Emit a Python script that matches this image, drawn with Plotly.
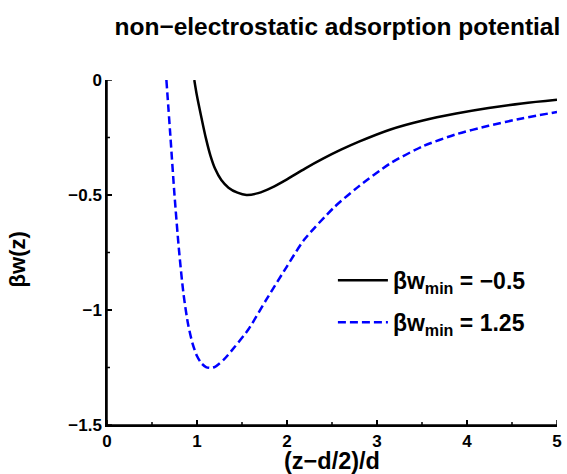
import plotly.graph_objects as go

x_black = [0.97, 1.00, 1.05, 1.10, 1.15, 1.20, 1.27, 1.35, 1.45, 1.55, 1.68, 1.83, 2.0, 2.2, 2.4, 2.6, 2.8, 3.15, 3.51, 3.88, 4.24, 4.61, 5.0]
y_black = [0.0, -0.07, -0.165, -0.255, -0.33, -0.385, -0.435, -0.468, -0.49, -0.5, -0.492, -0.468, -0.432, -0.385, -0.342, -0.303, -0.268, -0.215, -0.176, -0.146, -0.122, -0.102, -0.086]

x_blue = [0.66, 0.70, 0.75, 0.80, 0.85, 0.90, 0.95, 1.00, 1.05, 1.10, 1.15, 1.20, 1.30, 1.42, 1.57, 1.77, 2.0, 2.19, 2.52, 2.78, 3.15, 3.51, 3.88, 4.24, 4.61, 5.0]
y_blue = [0.0, -0.22, -0.50, -0.74, -0.93, -1.06, -1.145, -1.2, -1.232, -1.248, -1.252, -1.247, -1.215, -1.16, -1.085, -0.955, -0.81, -0.695, -0.555, -0.468, -0.362, -0.288, -0.236, -0.199, -0.167, -0.139]

x_range = [0, 5]
y_range = [-1.5, 0]
x_ticks = [0, 1, 2, 3, 4, 5]
x_minor = [0.5, 1.5, 2.5, 3.5, 4.5]
y_ticks = [0, -0.5, -1, -1.5]
y_minor = [-0.25, -0.75, -1.25]
y_ticktext = ["0", "\u22120.5", "\u22121", "\u22121.5"]

names = ["\u03b2w<sub>min</sub> = \u22120.5", "\u03b2w<sub>min</sub> = 1.25"]

FONT = "Liberation Sans, Arial, sans-serif"
W, H = 567, 474
ML, MR, MT, MB = 107, 5, 80, 49
PW, PH = W - ML - MR, H - MT - MB

# pixel -> data unit conversions for tick lengths
dx_px = (x_range[1] - x_range[0]) / PW
dy_px = (y_range[1] - y_range[0]) / PH

fig = go.Figure()

# axis frame (left + bottom spines) and inward tick marks, built from the axis ranges and tick lists
fx = [x_range[0], x_range[0], x_range[1]]
fy = [y_range[1], y_range[0], y_range[0]]
for v in x_ticks:
    fx += [None, v, v]
    fy += [None, y_range[0], y_range[0] + 5 * dy_px]
for v in x_minor:
    fx += [None, v, v]
    fy += [None, y_range[0], y_range[0] + 3 * dy_px]
for v in y_ticks:
    fx += [None, x_range[0], x_range[0] + 5 * dx_px]
    fy += [None, v, v]
for v in y_minor:
    fx += [None, x_range[0], x_range[0] + 3 * dx_px]
    fy += [None, v, v]
fig.add_trace(go.Scatter(x=fx, y=fy, mode="lines", line=dict(color="black", width=1.5),
                         showlegend=False, hoverinfo="skip", cliponaxis=False, connectgaps=False))

fig.add_trace(go.Scatter(x=x_black, y=y_black, mode="lines", name=names[0],
                         line=dict(color="black", width=2.5, shape="spline", smoothing=0.9),
                         legendgroup="a"))
fig.add_trace(go.Scatter(x=x_blue, y=y_blue, mode="lines", name=names[1],
                         line=dict(color="#0000ff", width=2.5, dash="8px,4px", shape="spline", smoothing=0.7),
                         legendgroup="b"))

tickfont = dict(family=FONT, size=17, color="black", weight="bold")

fig.update_xaxes(range=x_range, tickvals=x_ticks,
                 showline=True, linecolor="black", linewidth=1.5,
                 showgrid=False, zeroline=False,
                 ticks="inside", ticklen=5, tickwidth=1.5, tickcolor="black", tickfont=tickfont)
fig.update_yaxes(range=y_range, tickvals=y_ticks, ticktext=y_ticktext,
                 showline=True, linecolor="black", linewidth=1.5,
                 showgrid=False, zeroline=False,
                 ticks="inside", ticklen=5, tickwidth=1.5, tickcolor="black", tickfont=tickfont)

fig.update_layout(
    width=W, height=H,
    margin=dict(l=ML, r=MR, t=MT, b=MB),
    paper_bgcolor="white", plot_bgcolor="white",
    font=dict(family=FONT, color="black"),
    title=dict(text="non\u2212electrostatic adsorption potential", x=0.512, xref="paper", xanchor="center",
               y=1 - 26 / H, yref="container", yanchor="middle",
               font=dict(family=FONT, size=24.5, color="black", weight="bold")),
    legend=dict(x=0.502, y=0.4815, xanchor="left", yanchor="top", bgcolor="rgba(0,0,0,0)",
                font=dict(family=FONT, size=23, color="black", weight="bold"),
                tracegroupgap=9, itemwidth=50),
    annotations=[
        dict(text="(z\u2212d/2)/d", xref="paper", yref="paper", x=0.5, y=-0.105, xanchor="center", yanchor="middle",
             showarrow=False, font=dict(family=FONT, size=23.5, color="black", weight="bold")),
        dict(text="\u03b2w(z)", xref="paper", yref="paper", x=-0.2, y=0.48, xanchor="center", yanchor="middle",
             textangle=-90, showarrow=False, font=dict(family=FONT, size=22, color="black", weight="bold")),
    ],
)

fig.write_html("out.html")
